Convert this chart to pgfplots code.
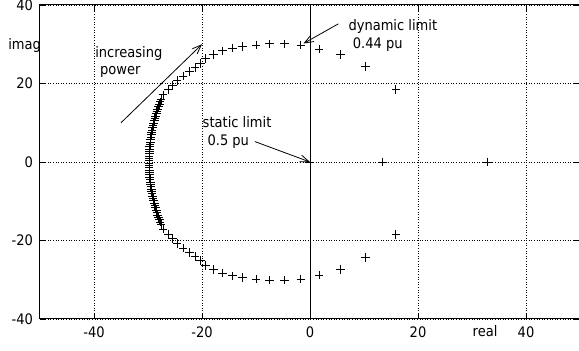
\documentclass[border=0pt]{standalone}
\usepackage{pgfplots}
\pgfplotsset{compat=1.18}
\usetikzlibrary{arrows.meta}
\usepackage{fontspec}
\setmainfont{DejaVu Sans Condensed}

% upper branch of the eigenvalue locus
\pgfplotstableread{
re      im
15.9    18.5
10.3    24.3
5.7     27.4
1.7     28.8
-1.7    29.8
-4.75   30.1
-7.5    30.1
-10.0   29.8
-12.5   29.5
-14.4   29.0
-16.2   28.3
-17.9   27.4
-19.3   26.3
-20.3   25.1
-21.3   24.1
-22.3   23.0
-23.5   21.9
-24.6   20.7
-25.4   19.6
-26.2   18.5
-27.2   17.1
-27.59  15.9
-27.75  15.3
-27.91  14.7
-28.06  14.1
-28.21  13.5
-28.35  12.9
-28.48  12.3
-28.61  11.7
-28.73  11.1
-28.84  10.5
-28.95  9.9
-29.05  9.3
-29.14  8.7
-29.23  8.1
-29.31  7.5
-29.39  6.9
-29.46  6.3
-29.52  5.7
-29.57  5.1
-29.62  4.5
-29.67  3.9
-29.71  3.3
-29.74  2.7
-29.76  2.1
-29.78  1.5
-29.79  0.9
-29.80  0.3
}\upperbranch

% lower branch (complex conjugates)
\pgfplotstableread{
re      im
15.9    -18.5
10.3    -24.3
5.7     -27.4
1.7     -28.8
-1.7    -29.8
-4.75   -30.1
-7.5    -30.1
-10.0   -29.8
-12.5   -29.5
-14.4   -29.0
-16.2   -28.3
-17.9   -27.4
-19.3   -26.3
-20.3   -25.1
-21.3   -24.1
-22.3   -23.0
-23.5   -21.9
-24.6   -20.7
-25.4   -19.6
-26.2   -18.5
-27.2   -17.1
-27.59  -15.9
-27.75  -15.3
-27.91  -14.7
-28.06  -14.1
-28.21  -13.5
-28.35  -12.9
-28.48  -12.3
-28.61  -11.7
-28.73  -11.1
-28.84  -10.5
-28.95  -9.9
-29.05  -9.3
-29.14  -8.7
-29.23  -8.1
-29.31  -7.5
-29.39  -6.9
-29.46  -6.3
-29.52  -5.7
-29.57  -5.1
-29.62  -4.5
-29.67  -3.9
-29.71  -3.3
-29.74  -2.7
-29.76  -2.1
-29.78  -1.5
-29.79  -0.9
-29.80  -0.3
}\lowerbranch

% real eigenvalues
\pgfplotstableread{
re      im
0.0     0.0
13.5    0.0
32.9    0.0
}\realeig

\begin{document}
\begin{tikzpicture}
\fontsize{14.5}{17}\selectfont
\begin{axis}[
  name=ax,
  scale only axis,
  width=540pt, height=314pt,
  xmin=-50, xmax=50, ymin=-40, ymax=40,
  xtick={-40,-20,0,20,40},
  ytick={-40,-20,0,20,40},
  xticklabels={-40,-20,0,20,40},
  yticklabels={-40,-20,0,20,40},
  tick align=inside,
  major tick length=6pt,
  tick style={black, line width=0.8pt},
  axis line style={black, line width=1pt},
  grid=major,
  major grid style={black, line width=0.6pt, dash pattern=on 0.8pt off 1.8pt},
  ticklabel style={font=\fontsize{14.5}{17}\selectfont},
  yticklabel style={xshift=-2pt},
  xticklabel style={yshift=-3pt},
  clip=false,
  eig/.style={only marks, mark=+, mark size=4.3pt, black,
    mark options={line width=0.9pt, black}},
]
% solid line through the origin along the imaginary axis
\draw[black, line width=0.9pt] (axis cs:0,-40) -- (axis cs:0,40);

\addplot[eig] table[x=re, y=im] {\upperbranch};
\addplot[eig] table[x=re, y=im] {\lowerbranch};
\addplot[eig] table[x=re, y=im] {\realeig};

% annotations
\node[anchor=base west, inner sep=0pt] at (axis cs:-39.8,26.6) {increasing};
\node[anchor=base west, inner sep=0pt] at (axis cs:-38.9,22.4) {power};
\draw[line width=0.8pt, -{Straight Barb[length=9pt,width=7pt]}]
  (axis cs:-35,10) -- (axis cs:-20,30);

\node[anchor=base west, inner sep=0pt] at (axis cs:-19.9,8.8) {static limit};
\node[anchor=base west, inner sep=0pt] at (axis cs:-19.0,4.2) {0.5 pu};
\draw[line width=0.8pt, -{Straight Barb[length=9pt,width=7pt]}]
  (axis cs:-10.2,5.2) -- (axis cs:0,0);

\node[anchor=base west, inner sep=0pt] at (axis cs:7.1,33.4) {dynamic limit};
\node[anchor=base west, inner sep=0pt] at (axis cs:7.9,29.0) {0.44 pu};
\draw[line width=0.8pt, -{Straight Barb[length=9pt,width=7pt]}]
  (axis cs:5.25,35.2) -- (axis cs:-1.2,30.2);

\node[anchor=base west, inner sep=0pt] at (axis cs:-55.9,28.7) {imag};
\node[anchor=base west, inner sep=0pt] at (axis cs:30.1,-44.5) {real};
\end{axis}
\pgfresetboundingbox
\useasboundingbox ([xshift=-40pt, yshift=-32pt]ax.south west)
  rectangle ([xshift=-1pt, yshift=5pt]ax.north east);
\end{tikzpicture}
\end{document}
